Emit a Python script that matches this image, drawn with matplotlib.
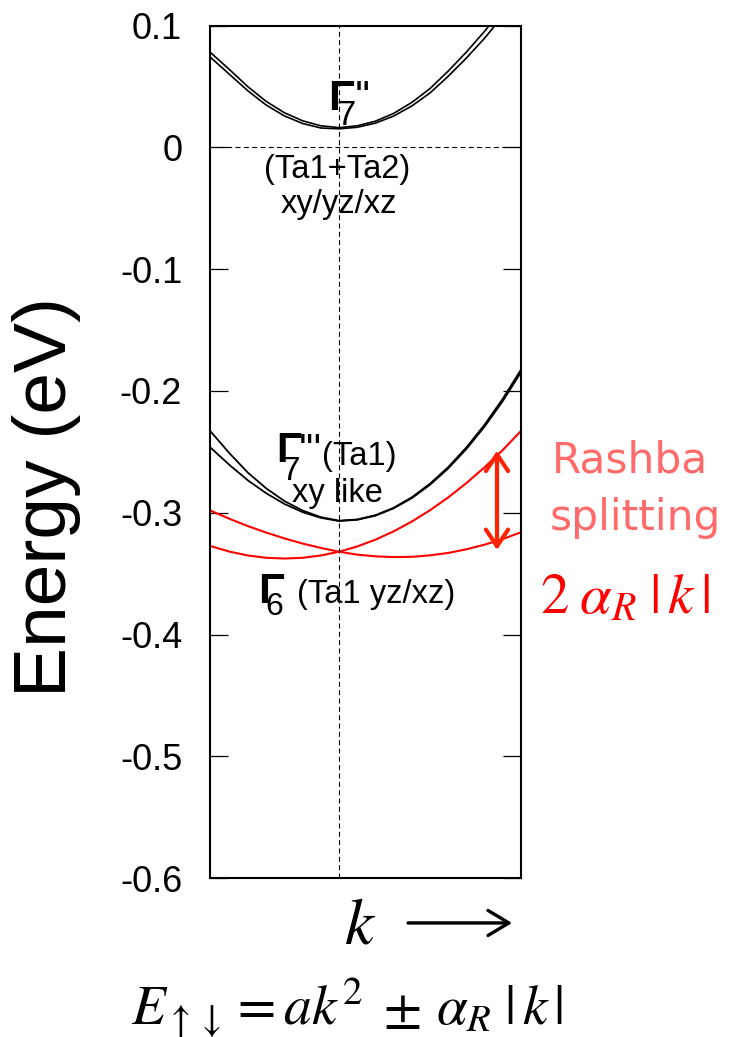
import matplotlib.pyplot as plt
import numpy as np

plt.rcParams['font.family'] = ['Liberation Sans', 'DejaVu Sans']

# wave vector (arb. units, 0 = Gamma)
k = [-0.71, -0.6, -0.5, -0.4, -0.3, -0.2, -0.1, 0.0, 0.1,
     0.2, 0.3, 0.4, 0.5, 0.6, 0.7, 0.8, 0.9, 1.0]

# Gamma7'' pair (Ta1+Ta2)
g7a_hi = [0.0785, 0.0637, 0.0498, 0.0378, 0.0285, 0.0219, 0.0178, 0.0163, 0.0178,
          0.0216, 0.0280, 0.0370, 0.0484, 0.0628, 0.0784, 0.0955, 0.114, 0.135]
g7a_lo = [0.0745, 0.0598, 0.0464, 0.0348, 0.0259, 0.0197, 0.0160, 0.0153, 0.0166,
          0.0200, 0.0258, 0.0341, 0.0448, 0.0585, 0.0735, 0.0898, 0.108, 0.128]

# Gamma7''' pair (Ta1 xy)
g7b_hi = [-0.2325, -0.2515, -0.2672, -0.2800, -0.2904, -0.2982, -0.3036, -0.3065, -0.3055,
          -0.3020, -0.2959, -0.2873, -0.2761, -0.2625, -0.2463, -0.2276, -0.2063, -0.1824]
g7b_lo = [-0.2460, -0.2610, -0.2735, -0.2840, -0.2928, -0.2995, -0.3042, -0.3068, -0.3058,
          -0.3024, -0.2964, -0.2880, -0.2770, -0.2636, -0.2476, -0.2292, -0.2082, -0.1846]

# Gamma6 Rashba pair (Ta1 yz/xz)
g6_a = [-0.2980, -0.3051, -0.3110, -0.3163, -0.3211, -0.3253, -0.3289, -0.3320, -0.3344,
        -0.3358, -0.3364, -0.3362, -0.3350, -0.3330, -0.3300, -0.3262, -0.3216, -0.3160]
g6_b = [-0.3272, -0.3320, -0.3351, -0.3370, -0.3376, -0.3370, -0.3351, -0.3320, -0.3277,
        -0.3221, -0.3153, -0.3072, -0.2979, -0.2874, -0.2756, -0.2626, -0.2484, -0.2328]

yticks = [-0.6, -0.5, -0.4, -0.3, -0.2, -0.1, 0.0, 0.1]
ytick_labels = ['-0.6', '-0.5', '-0.4', '-0.3', '-0.2', '-0.1', '0', '0.1']

# arrow marking the splitting
k_split = 0.868
e_split = [-0.249, -0.3306]

fig = plt.figure(figsize=(7.4, 10.37), dpi=100)
ax = fig.add_axes([0.2838, 0.1533, 0.4203, 0.8219])

ax.plot(k, g7a_hi, color='black', lw=1.2)
ax.plot(k, g7a_lo, color='black', lw=1.2)
ax.plot(k, g7b_hi, color='black', lw=1.3)
ax.plot(k, g7b_lo, color='black', lw=1.3)
ax.plot(k, g6_a, color='#ff0000', lw=1.5)
ax.plot(k, g6_b, color='#ff0000', lw=1.5)

ax.axhline(0, color='black', lw=0.8, ls=(0, (4.5, 3)))
ax.axvline(0, color='black', lw=0.8, ls=(0, (4.5, 3)))

ax.set_xlim(-0.709, 1.0)
ax.set_ylim(-0.6, 0.1)
ax.set_xticks([])
ax.set_yticks(yticks)
ax.set_yticklabels(ytick_labels)
ax.tick_params(axis='y', direction='in', length=13, width=0.9, right=True,
               labelsize=26, pad=20)
for s in ax.spines.values():
    s.set_linewidth(1.5)

fig.text(47 / 740, 1 - 497 / 1037, 'Energy (eV)', fontsize=54, rotation=90,
         ha='center', va='center')

lab = 23.5
# Gamma7''
ax.text(-0.062, 0.0308, 'Γ', fontsize=31, fontweight='bold', va='baseline')
ax.text(-0.018, 0.0185, '7', fontsize=25, va='baseline')
ax.text(0.085, 0.0308, "''", fontsize=30, va='baseline')
ax.text(-0.008, -0.0253, '(Ta1+Ta2)', fontsize=lab, ha='center', va='baseline')
ax.text(0.0, -0.054, 'xy/yz/xz', fontsize=lab, ha='center', va='baseline')

# Gamma7'''
ax.text(-0.344, -0.2583, 'Γ', fontsize=30, fontweight='bold', va='baseline')
ax.text(-0.319, -0.2731, '7', fontsize=24, va='baseline')
ax.text(-0.222, -0.2583, "'''", fontsize=29, va='baseline')
ax.text(-0.095, -0.2608, '(Ta1)', fontsize=lab, va='baseline')
ax.text(-0.008, -0.2909, 'xy like', fontsize=lab, ha='center', va='baseline')

# Gamma6
ax.text(-0.445, -0.3741, 'Γ', fontsize=31, fontweight='bold', va='baseline')
ax.text(-0.405, -0.3840, '6', fontsize=23, va='baseline')
ax.text(-0.232, -0.3741, '(Ta1 yz/xz)', fontsize=lab, va='baseline')

ax.annotate('', xy=(k_split, e_split[0]), xytext=(k_split, e_split[1]),
            arrowprops=dict(arrowstyle='<->, head_length=0.6, head_width=0.4',
                            lw=3, color='#ff2200', mutation_scale=20,
                            shrinkA=0, shrinkB=0))

ax.text(1.168, -0.2673, 'Rashba', fontsize=30.5, color='#ff6b6b',
        family='DejaVu Sans', va='baseline')
ax.text(1.159, -0.3141, 'splitting', fontsize=30.5, color='#ff6b6b',
        family='DejaVu Sans', va='baseline')
ax.text(1.104, -0.3824, r'$2\;\alpha_R\;|\,k\,|$', fontsize=41, color='#ff0000',
        math_fontfamily='stix', va='baseline')

# k axis arrow and dispersion formula below the frame
ax.text(0.027, -0.6541, r'$k$', fontsize=47, math_fontfamily='stix', va='baseline')
ax.annotate('', xy=(0.951, -0.6369), xytext=(0.379, -0.6369), annotation_clip=False,
            arrowprops=dict(arrowstyle='->, head_length=0.5, head_width=0.3',
                            lw=2.4, color='black', mutation_scale=30,
                            shrinkA=0, shrinkB=0))
ax.text(-1.143, -0.7199,
        r'$E_{\uparrow\downarrow} = ak^2 \;\pm\, \alpha_R\; |\,k\,|$',
        fontsize=40, math_fontfamily='stix', va='baseline')

fig.savefig('out.png', dpi=100)
